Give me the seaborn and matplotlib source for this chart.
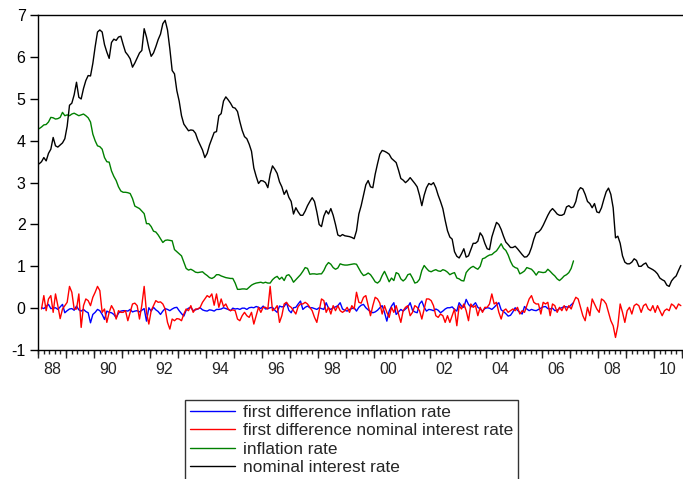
import numpy as np
import pandas as pd
import matplotlib
matplotlib.use("Agg")
import matplotlib.pyplot as plt
import seaborn as sns
from matplotlib.ticker import FixedLocator, NullFormatter

# ---------------- data (monthly) ----------------
nominal_start = "1988-01"
nominal_interest_rate = [
    3.45, 3.50, 3.60, 3.52, 3.70, 3.80, 4.08, 3.88, 3.85, 3.90, 3.95, 4.05,  # 1988
    4.35, 4.85, 4.90, 5.10, 5.40, 5.04, 5.00, 5.25, 5.44, 5.56, 5.55, 5.85,  # 1989
    6.25, 6.60, 6.65, 6.60, 6.30, 6.12, 5.97, 6.35, 6.43, 6.40, 6.48, 6.50,  # 1990
    6.30, 6.12, 6.05, 5.96, 5.76, 5.86, 5.98, 6.10, 6.16, 6.68, 6.48, 6.22,  # 1991
    6.02, 6.10, 6.25, 6.42, 6.55, 6.80, 6.88, 6.65, 6.20, 5.68, 5.60, 5.20,  # 1992
    4.95, 4.60, 4.40, 4.32, 4.24, 4.26, 4.25, 4.18, 4.02, 3.90, 3.78, 3.60,  # 1993
    3.70, 3.90, 4.05, 4.20, 4.22, 4.60, 4.65, 4.95, 5.05, 4.98, 4.90, 4.80,  # 1994
    4.78, 4.70, 4.46, 4.25, 4.10, 4.05, 3.92, 3.75, 3.35, 3.15, 2.98, 3.05,  # 1995
    3.04, 3.00, 2.88, 3.20, 3.40, 3.32, 3.22, 3.02, 2.90, 2.72, 2.82, 2.65,  # 1996
    2.55, 2.25, 2.40, 2.30, 2.22, 2.22, 2.32, 2.45, 2.55, 2.64, 2.55, 2.30,  # 1997
    2.00, 1.95, 2.20, 2.33, 2.25, 2.38, 2.22, 2.00, 1.75, 1.72, 1.76, 1.73,  # 1998
    1.72, 1.71, 1.69, 1.66, 1.85, 2.25, 2.45, 2.70, 2.95, 3.05, 2.90, 2.88,  # 1999
    3.20, 3.45, 3.68, 3.77, 3.75, 3.72, 3.68, 3.58, 3.53, 3.48, 3.30, 3.10,  # 2000
    3.06, 3.00, 3.05, 3.12, 3.05, 2.98, 2.90, 2.70, 2.45, 2.70, 2.88, 2.98,  # 2001
    2.95, 3.00, 2.88, 2.70, 2.55, 2.38, 2.10, 1.85, 1.70, 1.65, 1.35, 1.24,  # 2002
    1.20, 1.30, 1.42, 1.22, 1.25, 1.40, 1.55, 1.55, 1.60, 1.80, 1.72, 1.55,  # 2003
    1.42, 1.40, 1.70, 1.88, 2.05, 2.00, 1.88, 1.72, 1.58, 1.52, 1.45, 1.45,  # 2004
    1.48, 1.42, 1.35, 1.28, 1.22, 1.23, 1.30, 1.45, 1.65, 1.80, 1.82, 1.88,  # 2005
    1.98, 2.10, 2.22, 2.32, 2.38, 2.32, 2.25, 2.22, 2.22, 2.25, 2.42, 2.45,  # 2006
    2.40, 2.42, 2.55, 2.80, 2.88, 2.85, 2.72, 2.55, 2.50, 2.40, 2.50, 2.30,  # 2007
    2.28, 2.40, 2.60, 2.78, 2.87, 2.72, 2.40, 1.68, 1.72, 1.55, 1.25, 1.10,  # 2008
    1.06, 1.06, 1.10, 1.18, 1.14, 1.00, 1.00, 1.05, 1.08, 0.98, 0.95, 0.92,  # 2009
    0.88, 0.82, 0.72, 0.68, 0.65, 0.55, 0.52, 0.65, 0.72, 0.77, 0.90, 1.02,  # 2010
]

inflation_start = "1988-01"
inflation_rate = [
    4.29, 4.33, 4.38, 4.39, 4.45, 4.56, 4.55, 4.52, 4.53, 4.56, 4.68, 4.60,  # 1988
    4.62, 4.60, 4.64, 4.66, 4.63, 4.60, 4.62, 4.64, 4.60, 4.55, 4.45, 4.16,  # 1989
    4.00, 3.88, 3.86, 3.80, 3.60, 3.50, 3.49, 3.28, 3.15, 3.05, 2.90, 2.80,  # 1990
    2.77, 2.77, 2.76, 2.74, 2.62, 2.44, 2.41, 2.38, 2.32, 2.26, 2.02, 2.02,  # 1991
    1.95, 1.84, 1.82, 1.75, 1.66, 1.57, 1.62, 1.63, 1.62, 1.61, 1.40, 1.35,  # 1992
    1.30, 1.25, 1.10, 0.95, 0.91, 0.93, 0.90, 0.86, 0.85, 0.86, 0.87, 0.82,  # 1993
    0.78, 0.73, 0.71, 0.74, 0.80, 0.80, 0.77, 0.75, 0.73, 0.72, 0.71, 0.71,  # 1994
    0.60, 0.45, 0.45, 0.46, 0.46, 0.45, 0.50, 0.55, 0.58, 0.60, 0.61, 0.62,  # 1995
    0.60, 0.62, 0.60, 0.60, 0.68, 0.73, 0.76, 0.69, 0.74, 0.66, 0.78, 0.80,  # 1996
    0.73, 0.62, 0.68, 0.74, 0.80, 0.88, 0.97, 0.95, 0.81, 0.82, 0.82, 0.81,  # 1997
    0.82, 0.82, 0.90, 1.02, 1.09, 1.05, 0.97, 0.93, 0.96, 1.06, 1.04, 1.03,  # 1998
    1.03, 1.04, 1.05, 1.06, 1.05, 0.95, 0.85, 0.78, 0.80, 0.84, 0.80, 0.72,  # 1999
    0.63, 0.60, 0.65, 0.78, 0.88, 0.76, 0.63, 0.72, 0.66, 0.85, 0.82, 0.70,  # 2000
    0.65, 0.70, 0.80, 0.82, 0.72, 0.60, 0.62, 0.69, 0.90, 1.02, 0.95, 0.89,  # 2001
    0.87, 0.90, 0.92, 0.89, 0.88, 0.92, 0.90, 0.86, 0.80, 0.83, 0.85, 0.72,  # 2002
    0.70, 0.66, 0.65, 0.85, 0.92, 0.97, 1.00, 0.96, 0.93, 1.00, 1.18, 1.20,  # 2003
    1.24, 1.27, 1.28, 1.33, 1.37, 1.45, 1.54, 1.43, 1.38, 1.27, 1.12, 1.01,  # 2004
    0.97, 0.95, 0.82, 0.85, 0.89, 0.97, 0.95, 0.93, 0.87, 0.79, 0.87, 0.86,  # 2005
    0.85, 0.86, 0.93, 0.88, 0.82, 0.77, 0.70, 0.66, 0.71, 0.77, 0.80, 0.85,  # 2006
    0.95, 1.13,                                                              # 2007
]

d_inflation_start = "1988-02"
d_inflation_rate = [
    0.01, -0.01, 0.04, 0.09, -0.01, 0.00, 0.01, -0.03, 0.03, 0.09, -0.11,          # 1988
    -0.06, -0.02, -0.01, -0.05, 0.05, -0.04, -0.07, -0.03, -0.08, -0.11, -0.35, -0.15,  # 1989
    -0.10, -0.03, -0.06, -0.15, -0.27, -0.07, -0.10, -0.11, -0.15, -0.23, -0.12, -0.07,  # 1990
    -0.06, -0.06, -0.07, -0.03, -0.09, -0.07, -0.06, -0.09, -0.05, -0.01, -0.31, 0.01,  # 1991
    -0.07, 0.02, -0.04, -0.08, -0.15, -0.07, -0.01, -0.03, -0.06, -0.02, 0.01, 0.02,  # 1992
    -0.06, -0.13, -0.19, -0.05, 0.00, 0.02, -0.06, -0.04, -0.02, 0.01, -0.04, -0.06,  # 1993
    -0.07, -0.04, -0.05, -0.07, -0.03, -0.03, -0.02, 0.01, -0.01, -0.03, -0.06, 0.00,  # 1994
    -0.02, -0.01, -0.03, 0.00, 0.00, -0.03, 0.01, 0.02, 0.01, 0.04, 0.02, -0.01,  # 1995
    0.05, -0.02, -0.01, 0.01, 0.02, -0.05, -0.10, 0.05, 0.03, 0.04, 0.13, -0.05,  # 1996
    -0.11, 0.01, 0.02, 0.10, 0.17, -0.03, 0.02, 0.05, 0.01, 0.01, -0.01, -0.03,  # 1997
    0.01, -0.01, -0.03, 0.13, 0.00, -0.03, 0.01, 0.03, 0.06, 0.13, -0.02, -0.05,  # 1998
    -0.07, -0.03, -0.01, 0.01, -0.07, 0.02, 0.07, 0.09, 0.01, -0.04, -0.08, -0.11,  # 1999
    -0.09, -0.05, 0.01, 0.06, -0.10, -0.31, -0.07, 0.05, 0.13, -0.15, -0.09, -0.03,  # 2000
    -0.07, -0.02, 0.03, 0.13, -0.05, -0.09, -0.11, 0.10, 0.17, 0.02, -0.07, -0.03,  # 2001
    -0.04, -0.06, -0.02, -0.05, -0.11, -0.07, -0.02, 0.01, 0.01, 0.03, -0.03, -0.07,  # 2002
    0.13, 0.05, 0.02, 0.21, 0.09, 0.03, 0.07, 0.13, 0.02, -0.02, -0.07, -0.01,  # 2003
    0.01, 0.00, -0.03, 0.02, 0.08, 0.13, -0.04, -0.08, -0.13, -0.19, -0.17, -0.09,  # 2004
    0.01, -0.05, -0.10, -0.14, 0.04, -0.02, -0.06, -0.03, -0.05, -0.06, -0.03, 0.00,  # 2005
    0.03, 0.04, -0.01, -0.02, 0.00, -0.06, -0.05, -0.01, 0.01, 0.04, 0.03, 0.02,  # 2006
    0.08, 0.13,                                                                   # 2007
]

d_nominal_start = "1988-02"
d_nominal_interest_rate = [
    -0.02, 0.30, -0.06, 0.22, 0.30, -0.10, 0.34, 0.06, -0.25, -0.02, 0.06,        # 1988
    0.14, 0.52, 0.38, -0.02, -0.02, 0.34, -0.46, 0.06, 0.22, 0.18, 0.06, 0.26,   # 1989
    0.38, 0.52, 0.42, -0.10, -0.02, -0.34, -0.10, 0.06, -0.04, -0.26, -0.06, -0.10,  # 1990
    -0.10, -0.06, -0.30, -0.10, 0.10, 0.12, 0.06, -0.26, 0.07, 0.52, -0.10, -0.38,  # 1991
    -0.06, 0.06, 0.18, 0.14, 0.15, 0.10, -0.02, -0.34, -0.50, -0.26, -0.30, -0.25,  # 1992
    -0.26, -0.30, -0.14, -0.02, -0.06, 0.06, -0.10, -0.02, -0.02, 0.02, 0.14, 0.22,  # 1993
    0.30, 0.26, 0.34, 0.07, 0.34, 0.02, 0.22, 0.04, 0.10, -0.02, -0.06, -0.04,   # 1994
    -0.06, -0.26, -0.30, -0.18, -0.10, -0.18, -0.22, -0.10, -0.38, -0.18, 0.02, -0.10,  # 1995
    0.02, 0.02, -0.02, 0.52, -0.06, -0.02, 0.06, -0.34, -0.18, 0.10, 0.14, 0.06,  # 1996
    0.02, -0.06, -0.14, 0.04, 0.10, 0.10, 0.14, 0.10, 0.02, -0.06, -0.22, -0.34,  # 1997
    -0.06, 0.22, 0.18, -0.10, 0.02, -0.14, 0.06, -0.06, 0.06, -0.06, -0.10, -0.06,  # 1998
    0.02, -0.10, 0.06, -0.02, 0.38, 0.14, 0.12, 0.26, 0.30, 0.06, -0.18, 0.06,   # 1999
    0.26, 0.22, 0.12, -0.14, 0.06, -0.10, -0.22, 0.02, -0.10, 0.06, -0.14, -0.34,  # 2000
    -0.06, 0.02, 0.06, -0.18, -0.10, 0.06, 0.02, -0.06, -0.26, -0.02, 0.22, 0.22,  # 2001
    0.18, 0.06, -0.18, -0.22, -0.14, -0.18, -0.34, -0.18, -0.34, -0.18, -0.02, -0.42,  # 2002
    0.06, -0.02, 0.10, -0.06, -0.30, 0.10, 0.02, 0.06, -0.18, 0.02, -0.10, 0.02,  # 2003
    0.02, 0.10, 0.34, 0.10, 0.14, -0.10, -0.26, -0.06, -0.02, -0.10, -0.06, -0.02,  # 2004
    -0.06, 0.02, -0.14, -0.06, -0.10, 0.06, 0.22, 0.30, 0.14, 0.10, 0.10, -0.14,  # 2005
    0.14, 0.10, 0.14, -0.18, 0.10, 0.06, -0.10, 0.02, -0.06, 0.06, -0.06, 0.06,  # 2006
    -0.02, 0.14, 0.26, 0.22, 0.02, -0.18, -0.30, 0.02, -0.18, 0.22, 0.10, -0.02,  # 2007
    -0.10, 0.22, 0.18, 0.10, -0.10, -0.30, -0.42, -0.70, -0.42, 0.10, -0.10, -0.34,  # 2008
    -0.06, 0.02, -0.14, 0.06, 0.10, 0.06, -0.10, 0.06, 0.10, -0.02, -0.06, 0.06,  # 2009
    -0.10, 0.06, -0.06, -0.18, -0.06, -0.02, -0.06, 0.10, 0.06, -0.02, 0.10, 0.06,  # 2010
]

series_names = [
    "first difference inflation rate",
    "first difference nominal interest rate",
    "inflation rate",
    "nominal interest rate",
]
series_colors = ["#0000FF", "#FF0000", "#008000", "#000000"]
year_labels = ["88", "90", "92", "94", "96", "98", "00", "02", "04", "06", "08", "10"]


def decimal_year(start, n):
    d = pd.date_range(start, periods=n, freq="MS")
    return np.asarray(d.year + (d.month - 0.5) / 12.0, dtype=float)


series_data = [
    (series_names[0], d_inflation_start, d_inflation_rate),
    (series_names[1], d_nominal_start, d_nominal_interest_rate),
    (series_names[2], inflation_start, inflation_rate),
    (series_names[3], nominal_start, nominal_interest_rate),
]
frames = []
for name, start, vals in series_data:
    frames.append(pd.DataFrame({"t": decimal_year(start, len(vals)),
                                "value": vals, "series": name}))
df = pd.concat(frames, ignore_index=True)

# ---------------- figure ----------------
sns.set_style("ticks")
plt.rcParams["font.family"] = ["Liberation Sans", "DejaVu Sans"]
plt.rcParams["axes.unicode_minus"] = False

W, H = 683, 479
fig = plt.figure(figsize=(W / 100, H / 100), dpi=100)
ax_left, ax_right, ax_top, ax_bottom = 38, 683, 15.3, 350
ax = fig.add_axes([ax_left / W, 1 - ax_bottom / H,
                   (ax_right - ax_left) / W, (ax_bottom - ax_top) / H])

sns.lineplot(data=df, x="t", y="value", hue="series", hue_order=series_names,
             palette=dict(zip(series_names, series_colors)),
             estimator=None, linewidth=1.0, ax=ax)

ax.set_xlim(1988, 1988 + (ax_right - ax_left) / 28.0)
ax.set_ylim(-1, 7)
ax.set_xlabel("")
ax.set_ylabel("")

for s in ["top", "left", "bottom"]:
    ax.spines[s].set_visible(True)
    ax.spines[s].set_color("black")
    ax.spines[s].set_linewidth(1.0)
ax.spines["right"].set_visible(False)

ax.set_yticks(range(-1, 8))
ax.tick_params(axis="y", direction="out", length=6, width=1.0,
               labelsize=11.5, pad=3, colors="black")

# x: labels centred in even years, long ticks at year starts, short ticks between
ax.set_xticks([1988.5 + 2 * i for i in range(len(year_labels))])
ax.set_xticklabels(year_labels)
ax.tick_params(axis="x", which="major", length=0, labelsize=11.5, pad=9)
ax.xaxis.set_minor_locator(FixedLocator(np.arange(1988, 2011.05, 0.2)))
ax.tick_params(axis="x", which="minor", direction="out", length=3, width=1.0)

sec = ax.secondary_xaxis("bottom")
sec.set_xticks(list(range(1988, 2012)))
sec.xaxis.set_major_formatter(NullFormatter())
sec.tick_params(axis="x", direction="out", length=6, width=1.0)
sec.spines["bottom"].set_visible(False)

# legend
leg_x = (185 - ax_left) / (ax_right - ax_left)
leg_y = (ax_bottom - 400) / (ax_bottom - ax_top)
sns.move_legend(ax, "upper left", bbox_to_anchor=(leg_x, leg_y), title=None,
                frameon=True, fancybox=False, framealpha=1, edgecolor="#333333",
                fontsize=12.4, handlelength=2.6, handletextpad=0.47,
                labelspacing=0.18, borderpad=0.3, borderaxespad=0)
leg = ax.get_legend()
leg.get_frame().set_linewidth(1.0)
for line in leg.get_lines():
    line.set_linewidth(1.0)

fig.savefig("out.png", dpi=100)
